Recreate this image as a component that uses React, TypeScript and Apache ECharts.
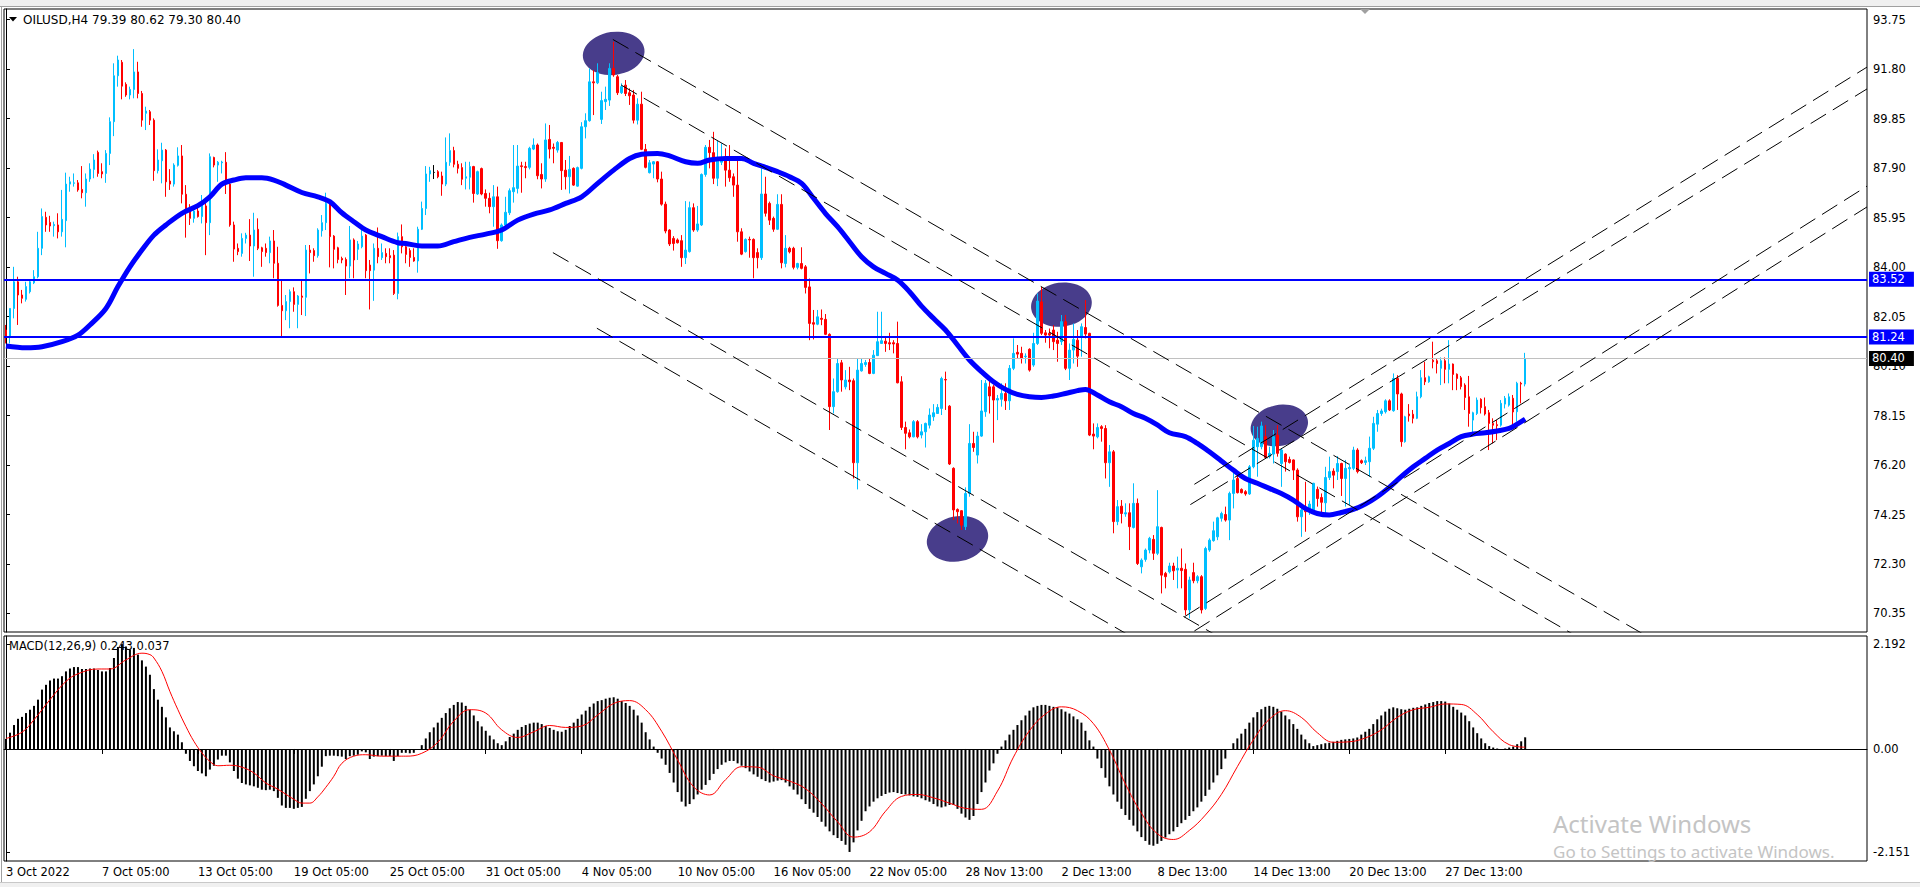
import React, { useEffect, useRef } from "react";
import * as echarts from "echarts";

const symbolLabel = "OILUSD,H4";
const quoteLabel = "79.39 80.62 79.30 80.40";
const macdLabel = "MACD(12,26,9) 0.243 0.037";
const watermarkTitle = "Activate Windows";
const watermarkHint = "Go to Settings to activate Windows.";

const xTickBars = [0, 24, 48, 72, 96, 120, 144, 168, 192, 216, 240, 264, 288, 312, 336, 360];
const xTickLabels = [
  "3 Oct 2022", "7 Oct 05:00", "13 Oct 05:00", "19 Oct 05:00", "25 Oct 05:00", "31 Oct 05:00",
  "4 Nov 05:00", "10 Nov 05:00", "16 Nov 05:00", "22 Nov 05:00", "28 Nov 13:00", "2 Dec 13:00",
  "8 Dec 13:00", "14 Dec 13:00", "20 Dec 13:00", "27 Dec 13:00",
];
const priceTicks = [70.35, 72.3, 74.25, 76.2, 78.15, 80.1, 82.05, 84.0, 85.95, 87.9, 89.85, 91.8, 93.75];
const macdTicks = [2.192, 0, -2.151];
const levelPrices = [83.52, 81.24];
const bidPrice = 80.4;

// [open, high, low, close] per H4 bar
const ohlc: number[][] = [
  [81.52,81.72,80.99,81.26],[81.26,82.37,80.99,82.37],[82.37,84.01,81.98,83.42],[83.42,83.62,81.72,82.90],[82.90,83.10,82.57,82.77],
  [82.73,83.42,82.64,83.23],[83.03,83.49,82.96,83.42],[83.38,83.88,83.33,83.62],[83.62,85.39,83.56,84.74],[84.74,86.31,84.47,85.99],
  [85.96,86.18,85.39,85.66],[85.76,86.02,85.39,85.62],[85.63,85.79,85.20,85.68],[85.66,86.12,85.13,85.39],[85.39,87.04,85.20,85.88],
  [85.83,87.72,84.78,87.27],[87.27,87.56,86.97,87.36],[87.30,87.69,87.17,87.32],[87.32,87.43,86.97,87.04],[87.06,87.98,86.71,86.93],
  [86.93,87.69,86.38,87.47],[87.47,88.09,87.36,87.86],[87.85,88.45,87.50,88.22],[88.52,88.59,87.56,87.69],[87.76,88.09,87.50,87.67],
  [87.69,88.61,87.32,88.48],[88.48,89.90,88.02,89.73],[89.73,92.03,89.16,91.54],[91.54,92.33,91.11,92.16],[92.07,92.16,90.61,91.13],
  [91.20,91.28,90.71,90.78],[90.78,91.11,90.61,91.00],[91.00,92.59,90.65,91.69],[91.69,92.09,90.65,90.84],[90.84,90.94,89.53,89.79],
  [90.06,90.32,89.40,90.15],[90.12,90.19,89.60,89.79],[89.79,89.86,87.40,87.80],[87.80,88.64,87.69,88.22],[88.19,88.90,87.30,88.61],
  [88.61,88.65,86.77,87.36],[87.39,87.86,87.04,87.27],[87.27,88.09,87.17,88.02],[88.01,88.72,87.96,88.38],[88.38,88.81,86.51,86.87],
  [86.87,87.23,85.16,86.14],[86.25,86.48,85.66,85.92],[85.92,86.41,85.75,86.21],[86.21,86.38,85.95,85.99],[85.99,86.84,85.72,86.51],
  [86.41,86.54,84.47,85.75],[85.75,88.48,85.26,88.35],[88.32,88.35,87.93,88.02],[88.02,88.18,87.36,88.13],[88.11,88.19,87.69,88.14],
  [88.13,88.53,86.88,87.27],[87.27,87.36,85.59,85.66],[85.66,85.79,84.21,84.71],[84.74,84.93,84.47,84.61],[84.54,85.33,84.41,85.13],
  [85.13,85.35,84.93,85.26],[85.26,85.89,84.24,84.83],[84.83,86.14,83.62,85.46],[85.49,85.92,84.67,84.74],[84.76,84.80,84.01,84.61],
  [84.74,84.93,84.41,84.57],[84.57,85.20,84.15,85.03],[85.03,85.46,83.56,84.15],[84.15,84.80,82.44,82.49],[82.49,83.46,81.28,82.28],
  [82.28,82.90,81.91,82.64],[82.64,83.12,81.59,83.03],[83.03,83.20,82.24,82.53],[82.53,82.90,81.59,82.86],[82.86,83.49,82.11,82.81],
  [82.81,84.87,82.07,84.67],[84.67,84.87,83.75,84.57],[84.65,84.74,84.21,84.45],[84.45,85.53,84.37,85.46],[85.43,86.05,85.20,85.75],
  [85.75,86.93,85.46,86.51],[86.51,86.62,83.99,85.20],[85.22,85.26,83.95,84.70],[84.76,84.80,84.15,84.30],[84.34,84.41,84.15,84.28],
  [84.30,84.38,82.90,84.04],[84.04,85.62,83.56,85.07],[85.07,85.13,83.56,84.28],[84.70,85.03,84.28,84.91],[84.80,85.51,84.74,85.22],
  [85.26,85.30,83.56,83.86],[84.08,84.28,82.33,83.86],[83.88,84.93,82.67,84.74],[84.74,85.56,84.15,84.41],[84.37,84.93,84.28,84.57],
  [84.54,84.74,84.15,84.41],[84.45,84.74,84.15,84.37],[84.47,84.67,82.90,82.96],[82.96,85.36,82.73,85.20],[85.20,85.68,84.54,84.80],
  [84.80,84.93,84.15,84.50],[84.65,84.74,84.01,84.38],[84.38,84.74,84.21,84.24],[84.24,85.59,83.78,85.49],[85.49,86.58,85.46,86.31],
  [86.31,87.98,86.05,87.67],[87.67,87.95,87.36,87.80],[87.73,88.02,87.47,87.73],[87.76,87.82,87.50,87.56],[87.59,87.76,86.81,87.27],
  [87.27,89.11,87.19,88.13],[88.13,89.27,87.99,88.59],[88.59,88.74,87.93,88.05],[88.05,88.19,87.69,87.89],[87.92,88.09,87.23,87.46],
  [87.50,88.15,87.06,87.56],[87.54,88.15,87.06,87.96],[87.96,87.99,86.54,86.90],[86.88,87.80,86.84,87.76],[87.88,87.92,86.83,86.88],
  [86.90,87.06,86.38,86.71],[86.71,86.93,86.12,86.38],[86.38,87.23,85.59,86.77],[86.77,87.17,84.72,85.04],[85.04,85.72,85.00,85.66],
  [85.66,86.77,85.46,86.16],[86.14,87.10,86.05,87.01],[86.97,88.81,86.54,87.13],[87.10,88.81,86.90,87.98],[87.99,88.15,86.93,87.96],
  [87.96,88.15,87.50,87.92],[87.93,88.74,87.85,88.68],[88.65,89.07,88.61,88.81],[88.81,88.87,87.46,87.60],[87.65,88.09,87.10,87.47],
  [87.47,89.66,87.36,89.01],[89.03,89.60,88.28,88.65],[88.72,88.87,88.09,88.68],[88.61,88.97,88.51,88.91],[88.91,88.93,87.04,87.80],
  [87.82,88.22,87.06,87.56],[87.56,88.38,86.90,87.85],[87.89,87.93,87.20,87.23],[87.19,87.96,87.17,87.92],[87.89,89.71,87.85,89.53],
  [89.53,90.06,89.07,89.77],[89.77,91.83,89.73,91.30],[91.30,91.76,89.99,91.26],[91.26,92.03,91.21,91.66],[89.82,90.91,89.64,90.56],
  [90.52,91.11,90.19,90.61],[90.58,92.03,90.35,91.83],[91.83,92.88,91.50,91.57],[91.50,91.57,90.78,90.87],[90.87,91.24,90.82,91.11],
  [91.17,91.37,90.74,90.84],[90.87,91.04,90.39,90.75],[90.78,90.98,89.66,89.79],[89.79,90.65,89.62,90.42],[90.42,90.91,88.61,88.64],
  [88.64,88.85,87.89,87.93],[87.72,88.22,87.69,88.11],[88.06,88.18,87.50,88.15],[88.15,88.18,87.34,87.47],[87.47,87.76,86.42,86.48],
  [86.48,86.58,85.33,85.42],[85.46,85.49,84.83,84.91],[85.13,85.22,84.65,84.93],[85.07,85.13,84.93,84.96],[85.04,85.26,84.01,84.37],
  [84.37,86.60,84.12,84.67],[84.61,86.58,84.57,86.34],[86.34,86.51,85.39,85.46],[85.46,86.41,85.39,85.70],[85.66,87.69,85.62,87.65],
  [87.65,88.81,87.56,88.72],[88.72,89.01,87.89,88.51],[88.51,89.33,87.27,87.50],[87.50,88.98,87.19,88.28],[88.13,88.87,88.02,88.28],
  [88.31,88.68,87.17,87.82],[87.82,88.81,87.36,87.52],[87.56,87.69,86.77,87.23],[87.23,88.22,85.00,85.39],[85.39,85.53,84.47,84.51],
  [84.61,85.13,84.57,85.09],[85.09,85.20,84.37,85.07],[85.09,85.13,83.56,84.37],[84.57,84.74,83.95,84.37],[84.37,87.89,84.28,86.88],
  [86.88,87.56,85.99,86.12],[86.51,86.58,85.66,85.85],[85.92,85.99,85.39,85.49],[85.49,86.87,85.46,86.47],[86.47,86.87,83.95,84.17],
  [84.14,85.26,83.99,84.74],[84.74,84.80,84.54,84.60],[84.74,84.80,83.91,83.99],[83.99,84.17,83.91,84.14],[84.14,84.78,83.91,83.95],
  [84.01,84.08,82.96,83.20],[83.22,83.55,81.12,81.78],[81.81,82.31,81.15,81.75],[81.75,82.31,81.71,82.04],[81.98,82.33,81.71,81.94],
  [81.94,82.15,81.32,81.35],[81.35,81.39,77.58,78.50],[78.50,79.61,78.23,79.09],[79.09,80.40,79.05,80.20],[80.23,80.34,79.09,79.55],
  [79.28,79.94,79.18,79.55],[79.55,80.07,79.15,79.48],[79.52,79.61,75.67,76.29],[76.29,80.40,75.24,79.94],[79.91,80.40,79.88,80.20],
  [80.16,80.34,80.07,80.24],[80.24,80.40,79.78,79.81],[79.81,80.73,79.78,80.53],[80.51,82.24,80.50,81.06],[80.99,82.24,80.97,81.10],
  [81.08,81.25,80.66,80.99],[81.02,81.41,80.73,80.97],[81.02,81.12,80.60,80.97],[80.99,81.85,79.42,79.44],[79.48,79.70,77.58,77.68],
  [77.68,77.91,76.82,77.45],[77.47,77.60,77.25,77.31],[77.31,77.97,77.29,77.91],[77.91,77.97,77.25,77.31],[77.38,77.81,77.25,77.51],
  [77.51,77.87,76.89,77.84],[77.77,78.43,77.64,78.17],[78.10,78.60,77.94,78.26],[78.23,78.60,78.21,78.47],[78.43,79.68,78.17,79.61],
  [79.57,79.88,78.37,79.55],[78.52,78.56,76.20,76.24],[76.07,76.11,74.03,74.43],[74.45,74.49,73.90,74.36],[74.40,74.42,73.64,73.83],
  [73.77,75.32,73.64,75.08],[75.08,77.81,74.95,77.05],[77.05,77.51,76.72,76.89],[76.59,77.51,76.26,77.34],[77.34,79.55,77.31,78.33],
  [78.30,79.55,78.10,79.42],[79.28,79.61,78.23,78.92],[79.28,79.35,77.08,78.76],[78.76,78.96,77.97,78.82],[78.79,79.42,78.50,79.02],
  [79.02,79.42,78.37,78.73],[78.73,80.14,78.37,80.01],[80.01,81.19,79.94,80.60],[80.64,80.93,80.40,80.57],[80.60,80.86,80.20,80.40],
  [80.47,80.60,80.20,80.49],[80.76,80.80,79.88,79.94],[80.14,81.41,80.07,80.99],[80.99,82.96,80.93,82.66],[82.63,83.22,81.32,81.39],
  [81.41,81.52,81.02,81.32],[81.39,81.58,80.80,81.32],[81.52,81.71,80.73,81.06],[81.12,81.45,80.27,80.99],[81.06,82.11,80.93,81.85],
  [81.85,82.11,79.94,80.01],[80.01,80.99,79.55,80.73],[80.73,81.78,80.20,81.15],[81.12,81.52,80.07,80.49],[81.25,81.78,80.47,81.65],
  [81.62,82.70,81.19,81.36],[81.39,81.41,77.34,77.38],[77.42,77.84,76.82,77.34],[77.31,77.84,77.25,77.68],[77.71,77.77,77.12,77.64],
  [77.64,77.77,75.67,76.29],[76.29,76.99,75.34,76.72],[76.72,76.79,73.51,73.97],[73.97,74.82,73.83,74.56],[74.58,74.82,73.90,74.29],
  [74.27,74.69,74.16,74.32],[74.32,74.69,72.85,73.77],[73.74,75.48,73.70,74.69],[74.69,74.88,72.26,72.32],[72.19,72.52,71.93,72.45],
  [72.48,72.91,72.39,72.85],[72.85,73.37,72.72,73.31],[73.27,73.44,72.46,72.72],[72.72,75.21,72.65,73.77],[73.74,73.77,71.14,71.86],
  [71.93,71.99,71.34,71.80],[71.99,72.35,71.93,72.22],[72.22,72.35,71.67,72.03],[72.06,72.59,71.34,72.13],[72.13,72.91,71.34,72.04],
  [72.09,72.32,70.29,70.49],[70.49,71.80,70.16,71.67],[71.96,72.35,71.54,71.64],[71.64,71.86,71.54,71.80],[71.80,71.86,70.35,70.49],
  [70.55,72.98,70.49,72.91],[72.85,73.31,72.78,73.24],[73.22,73.97,73.18,73.61],[73.37,74.16,73.24,74.12],[74.10,74.36,73.97,74.29],
  [74.25,74.56,73.97,74.03],[74.03,75.15,73.24,75.08],[75.08,76.00,74.49,75.61],[75.67,75.80,75.08,75.11],[75.24,75.28,75.08,75.11],
  [75.15,75.21,74.99,75.06],[75.06,76.20,75.02,76.13],[76.13,77.74,76.07,77.18],[76.92,77.71,75.74,77.25],[76.92,77.91,76.82,77.74],
  [77.32,77.77,76.46,76.50],[76.53,76.92,76.46,76.66],[76.63,77.58,76.26,77.32],[77.38,77.77,76.53,76.66],[76.26,76.86,75.34,76.79],
  [76.63,76.66,75.94,76.33],[76.42,76.53,76.26,76.30],[76.40,76.42,75.61,76.00],[76.00,76.07,73.97,74.16],[74.16,74.49,73.37,74.43],
  [74.43,75.54,73.57,74.36],[74.36,74.79,74.23,74.66],[74.43,75.50,74.29,75.48],[75.24,75.35,74.56,74.88],[74.92,75.08,74.29,74.73],
  [74.71,76.13,74.29,75.71],[75.71,76.53,75.61,75.94],[75.96,76.07,75.28,75.80],[75.94,76.55,75.61,76.26],[76.26,76.29,74.98,75.67],
  [75.67,76.40,74.56,76.07],[76.05,76.26,74.62,76.10],[76.07,76.92,76.00,76.79],[76.79,76.86,75.87,75.94],[76.37,76.42,76.24,76.29],
  [76.30,76.53,76.20,76.37],[76.33,77.32,75.74,76.86],[76.86,78.10,76.79,77.84],[77.81,78.37,77.51,78.23],[78.23,78.42,78.14,78.33],
  [78.30,78.79,78.23,78.73],[78.73,78.79,78.33,78.37],[78.34,79.81,78.30,79.61],[79.61,79.74,78.37,79.00],[79.00,79.05,76.92,77.12],
  [77.12,78.14,77.08,78.10],[78.21,78.60,77.91,78.14],[78.20,78.37,77.84,78.04],[78.04,79.09,78.01,78.89],[78.89,79.94,78.83,79.64],
  [79.64,80.27,79.35,79.48],[79.48,79.72,79.44,79.68],[80.33,81.06,80.01,80.27],[80.31,80.40,79.81,80.20],[80.01,80.44,79.35,80.31],
  [80.31,80.44,79.42,79.97],[79.97,81.12,79.42,80.18],[80.18,80.20,79.15,79.77],[79.78,79.81,79.15,79.61],[79.64,79.71,79.18,79.29],
  [79.35,79.42,78.37,78.86],[78.89,79.71,77.71,78.23],[77.97,78.30,77.47,78.26],[78.23,78.86,78.17,78.76],[78.79,78.83,78.23,78.46],
  [78.50,78.86,78.15,78.21],[78.26,78.37,76.79,77.84],[77.84,78.04,77.05,77.77],[77.79,77.97,77.18,77.75],[77.77,78.76,77.71,78.63],
  [78.60,78.92,78.43,78.83],[78.56,79.02,78.50,78.89],[78.83,78.96,77.77,78.29],[78.30,79.48,77.91,79.42],[79.42,79.48,78.63,79.39],
  [79.39,80.62,79.30,80.40],
];

// moving average, [bar, value]
const maPoints: number[][] = [
  [0,80.89],[5,80.82],[9,80.86],[14,81.06],[18,81.32],[21,81.72],[25,82.37],[28,83.23],[31,84.01],[34,84.67],[37,85.26],[40,85.66],
  [44,86.12],[48,86.42],[51,86.77],[54,87.27],[57,87.43],[60,87.52],[64,87.52],[67,87.43],[70,87.23],[74,86.94],[78,86.77],[81,86.58],
  [84,86.14],[87,85.79],[90,85.46],[94,85.2],[98,84.96],[100,84.93],[104,84.83],[108,84.83],[112,85.0],[116,85.17],[120,85.3],[124,85.46],
  [128,85.85],[132,86.09],[136,86.25],[140,86.51],[144,86.77],[148,87.3],[152,87.82],[156,88.28],[159,88.45],[163,88.48],[166,88.38],
  [170,88.15],[173,88.09],[176,88.22],[180,88.28],[184,88.28],[187,88.09],[190,87.93],[193,87.76],[196,87.56],[199,87.3],[202,86.71],
  [205,86.11],[208,85.59],[211,85.0],[214,84.41],[217,84.01],[220,83.75],[223,83.49],[226,83.03],[229,82.46],[232,81.98],[235,81.52],
  [238,80.93],[241,80.34],[244,79.88],[247,79.48],[250,79.18],[253,78.98],[256,78.89],[259,78.86],[262,78.92],[265,79.02],[268,79.13],
  [270,79.18],[273,78.96],[276,78.69],[279,78.5],[282,78.23],[285,78.04],[288,77.78],[291,77.47],[295,77.32],[298,77.05],[301,76.72],
  [304,76.36],[307,76.0],[310,75.67],[313,75.48],[316,75.28],[319,75.08],[322,74.82],[325,74.49],[328,74.29],[331,74.23],[334,74.33],
  [337,74.45],[340,74.66],[343,74.95],[346,75.32],[349,75.74],[352,76.13],[355,76.46],[358,76.79],[361,77.05],[364,77.32],[367,77.42],
  [370,77.47],[373,77.54],[376,77.64],[378,77.81],[380,78.01],
];

// MACD main line (drawn as histogram), one value per bar
const macdMain: number[] = [
  0.21,0.34,0.50,0.63,0.67,0.75,0.82,0.90,1.03,1.24,
  1.34,1.43,1.47,1.47,1.52,1.62,1.68,1.71,1.71,1.67,
  1.67,1.68,1.68,1.65,1.62,1.62,1.69,1.90,2.13,2.19,
  2.14,2.08,2.11,1.97,1.85,1.72,1.55,1.25,1.03,0.88,
  0.66,0.45,0.37,0.30,0.14,-0.10,-0.25,-0.36,-0.46,-0.51,
  -0.57,-0.43,-0.35,-0.22,-0.14,-0.14,-0.28,-0.46,-0.62,-0.71,
  -0.74,-0.76,-0.78,-0.81,-0.85,-0.86,-0.85,-0.88,-1.02,-1.18,
  -1.23,-1.23,-1.25,-1.23,-1.21,-1.04,-0.88,-0.74,-0.57,-0.37,
  -0.15,-0.14,-0.14,-0.15,-0.16,-0.21,-0.15,-0.14,-0.12,-0.05,
  -0.07,-0.21,-0.16,-0.15,-0.14,-0.15,-0.15,-0.25,-0.15,
  -0.08,-0.08,-0.09,-0.08,-0.02,0.08,0.22,0.35,0.45,0.55,
  0.65,0.75,0.85,0.92,0.98,0.97,0.90,0.82,0.70,0.58,
  0.47,0.38,0.28,0.20,0.12,0.08,0.16,0.25,0.32,0.40,
  0.46,0.50,0.53,0.55,0.55,0.52,0.48,0.44,0.40,0.37,
  0.36,0.40,0.48,0.55,0.63,0.72,0.80,0.88,0.95,1.00,
  1.02,1.05,1.07,1.08,1.05,1.00,0.96,0.90,0.82,0.70,
  0.55,0.35,0.20,0.05,-0.08,-0.20,-0.33,-0.50,-0.70,-0.90,
  -1.10,-1.20,-1.15,-1.05,-0.95,-0.85,-0.75,-0.65,-0.52,-0.42,
  -0.33,-0.28,-0.25,-0.25,-0.30,-0.35,-0.40,-0.47,-0.53,-0.58,
  -0.63,-0.67,-0.70,-0.68,-0.66,-0.65,-0.70,-0.78,-0.85,-0.95,
  -1.05,-1.15,-1.25,-1.33,-1.42,-1.52,-1.62,-1.72,-1.80,-1.86,
  -1.92,-2.00,-2.15,-1.95,-1.70,-1.50,-1.30,-1.20,-1.10,-1.03,
  -0.98,-0.94,-0.91,-0.90,-0.92,-0.94,-0.95,-0.97,-0.99,-1.00,
  -1.03,-1.07,-1.10,-1.15,-1.20,-1.22,-1.20,-1.17,-1.17,-1.25,
  -1.35,-1.43,-1.48,-1.40,-1.15,-0.90,-0.70,-0.45,-0.30,-0.10,
  0.05,0.18,0.30,0.40,0.50,0.60,0.70,0.80,0.87,0.90,
  0.92,0.92,0.90,0.88,0.87,0.83,0.78,0.74,0.68,0.62,
  0.55,0.38,0.18,0.05,-0.20,-0.40,-0.60,-0.78,-0.95,-1.10,
  -1.25,-1.38,-1.48,-1.60,-1.72,-1.84,-1.92,-2.00,-2.02,-1.98,
  -1.92,-1.85,-1.78,-1.72,-1.63,-1.55,-1.48,-1.40,-1.30,-1.22,
  -1.10,-0.98,-0.85,-0.70,-0.55,-0.42,-0.20,0.00,0.12,0.22,
  0.32,0.42,0.55,0.66,0.77,0.83,0.88,0.90,0.88,0.84,
  0.78,0.70,0.62,0.52,0.42,0.30,0.20,0.12,0.06,0.08,
  0.10,0.12,0.13,0.15,0.17,0.19,0.20,0.21,0.22,0.24,
  0.30,0.36,0.42,0.52,0.62,0.70,0.78,0.84,0.87,0.85,
  0.83,0.82,0.84,0.86,0.87,0.90,0.93,0.96,0.98,1.00,
  1.00,0.99,0.95,0.88,0.82,0.76,0.70,0.58,0.45,0.33,
  0.22,0.12,0.06,0.03,0.01,0.00,0.01,0.03,0.05,0.10,
  0.16,0.243,
];

// MACD signal line, [bar, value]
const macdSignal: number[][] = [
  [0,0.22],[4,0.35],[7,0.61],[11,1.03],[15,1.41],[18,1.57],[23,1.67],[26,1.67],[30,1.86],[34,2.0],[36,1.97],[37,1.9],
  [39,1.62],[41,1.2],[43,0.82],[45,0.47],[47,0.16],[49,-0.08],[51,-0.26],[53,-0.35],[56,-0.34],[59,-0.38],[62,-0.5],
  [65,-0.71],[68,-0.84],[72,-1.05],[74,-1.13],[76,-1.13],[78,-1.0],[80,-0.8],[82,-0.57],[84,-0.3],[87,-0.15],[90,-0.12],
  [94,-0.15],[98,-0.15],[100,-0.15],[104,-0.09],[108,0.14],[112,0.58],[116,0.82],[120,0.75],[124,0.4],[128,0.24],
  [132,0.36],[136,0.49],[140,0.45],[144,0.48],[148,0.71],[152,0.95],[156,1.01],[160,0.82],[164,0.37],[168,-0.23],
  [172,-0.79],[176,-0.96],[180,-0.64],[184,-0.37],[188,-0.38],[192,-0.56],[196,-0.67],[200,-0.83],[204,-1.14],
  [208,-1.52],[212,-1.84],[216,-1.73],[220,-1.3],[224,-0.99],[228,-0.95],[232,-1.02],[236,-1.13],[240,-1.24],
  [244,-1.26],[248,-0.88],[252,-0.17],[256,0.38],[260,0.73],[264,0.88],[268,0.8],[272,0.53],[276,-0.02],[280,-0.73],
  [284,-1.34],[288,-1.77],[292,-1.89],[296,-1.7],[300,-1.38],[304,-0.95],[308,-0.37],[312,0.19],[316,0.62],[320,0.8],
  [324,0.66],[328,0.34],[332,0.14],[336,0.15],[340,0.23],[344,0.4],[348,0.66],[352,0.82],[356,0.87],[360,0.94],
  [364,0.93],[368,0.72],[372,0.36],[376,0.09],[380,0.037],
];

// trend lines: [[bar, price], [bar, price]]
const trendLines: number[][][] = [
  [[151.8, 92.97], [465.5, 64.45]],
  [[153.9, 91.17], [465.5, 62.85]],
  [[136.8, 84.57], [465.5, 54.69]],
  [[147.8, 81.59], [465.5, 52.71]],
  [[297.25, 75.44], [465.5, 91.88]],
  [[296.25, 74.64], [465.5, 91.02]],
  [[294.75, 70.22], [465.5, 87.19]],
  [[297.25, 69.66], [465.5, 86.37]],
];

// highlighted zones: [bar, price]
const ellipseCenters: number[][] = [[152, 92.42], [264, 82.52], [318.5, 77.76], [238, 73.29]];

// ---------- layout / style ----------
const FONT = "'DejaVu Sans', sans-serif";
const FS = 11.5;
const BAR_SLOTS = 466;
const GRID_LEFT = 4;
const GRID_W = 1863;
const MAIN_TOP = 9;
const MAIN_H = 623;
const MACD_TOP = 636;
const MACD_H = 225;
const PRICE_MIN = 69.62;
const PRICE_MAX = 94.17;
const MACD_MIN = -2.339;
const MACD_MAX = 2.359;
const ellipseSizes = [[62, 43], [61, 44], [58, 41], [62, 45]];
const ellipseRot = [8, 8, 12, 12];

const textStyle = (text: string, size: number, fill: string, family = FONT) => ({
  text, fill, fontSize: size, fontFamily: family, verticalAlign: "middle", textVerticalAlign: "middle",
});

export default function App() {
  const ref = useRef<HTMLDivElement>(null);

  useEffect(() => {
    if (!ref.current) return;
    const chart = echarts.init(ref.current, undefined, { renderer: "svg" });
    const slots = Array.from({ length: BAR_SLOTS }, (_, i) => String(i));
    const tickSet = new Set(xTickBars);
    const labelByBar: Record<number, string> = {};
    xTickBars.forEach((b, k) => (labelByBar[b] = xTickLabels[k]));

    const candleData = ohlc.map(([o, h, l, c]) => [o, c, l, h]);

    const lineSeries = trendLines.map((pts) => ({
      type: "line",
      xAxisIndex: 1,
      yAxisIndex: 0,
      data: pts,
      showSymbol: false,
      symbol: "none",
      silent: true,
      clip: true,
      lineStyle: { color: "#000", width: 1, type: [18, 8] },
      z: 6,
    }));

    const option: any = {
      animation: false,
      backgroundColor: "#ffffff",
      textStyle: { fontFamily: FONT },
      grid: [
        { left: GRID_LEFT, top: MAIN_TOP, width: GRID_W, height: MAIN_H, show: true, borderColor: "#000", borderWidth: 1, backgroundColor: "transparent", containLabel: false, outerBoundsMode: "none" },
        { left: GRID_LEFT, top: MACD_TOP, width: GRID_W, height: MACD_H, show: true, borderColor: "#000", borderWidth: 1, backgroundColor: "transparent", containLabel: false, outerBoundsMode: "none" },
      ],
      xAxis: [
        { type: "category", gridIndex: 0, data: slots, boundaryGap: true, axisLine: { show: false }, axisTick: { show: false }, axisLabel: { show: false }, splitLine: { show: false } },
        { type: "value", gridIndex: 0, min: -0.5, max: BAR_SLOTS - 0.5, show: false, splitLine: { show: false } },
        {
          type: "category", gridIndex: 1, data: slots, boundaryGap: true, position: "bottom",
          axisLine: { show: true, lineStyle: { color: "#000", width: 1 } },
          axisTick: { show: true, alignWithLabel: true, interval: (i: number) => tickSet.has(i), length: 5, lineStyle: { color: "#000" } },
          axisLabel: {
            show: true, interval: (i: number) => tickSet.has(i), formatter: (v: string) => labelByBar[Number(v)] || "",
            align: "left", margin: 5, color: "#000", fontFamily: FONT, fontSize: FS,
          },
          splitLine: { show: false },
        },
        { type: "value", gridIndex: 1, min: -0.5, max: BAR_SLOTS - 0.5, show: false, splitLine: { show: false } },
      ],
      yAxis: [
        {
          type: "value", gridIndex: 0, position: "right", min: PRICE_MIN, max: PRICE_MAX, splitLine: { show: false },
          axisLine: { show: true, lineStyle: { color: "#000" } },
          axisTick: { show: true, length: 4, customValues: priceTicks, lineStyle: { color: "#000" } },
          axisLabel: { show: true, customValues: priceTicks, formatter: (v: number) => v.toFixed(2), color: "#000", fontFamily: FONT, fontSize: FS, margin: 6 },
        },
        {
          type: "value", gridIndex: 1, position: "right", min: MACD_MIN, max: MACD_MAX, splitLine: { show: false },
          axisLine: { show: true, lineStyle: { color: "#000" } },
          axisTick: { show: true, length: 4, customValues: macdTicks, lineStyle: { color: "#000" } },
          axisLabel: {
            show: true, customValues: macdTicks,
            formatter: (v: number) => (Math.abs(v) < 1e-9 ? "0.00" : v.toFixed(3)),
            color: "#000", fontFamily: FONT, fontSize: FS, margin: 6,
          },
        },
      ],
      series: [
        {
          type: "scatter", xAxisIndex: 1, yAxisIndex: 0, silent: true, symbol: "circle",
          data: ellipseCenters.map((c, k) => ({ value: c, symbolSize: ellipseSizes[k], symbolRotate: ellipseRot[k] })),
          itemStyle: { color: "#483D8B", opacity: 1 },
          z: 2,
        },
        {
          type: "candlestick", xAxisIndex: 0, yAxisIndex: 0, data: candleData, barWidth: 2, silent: true,
          itemStyle: { color: "#00BFFF", color0: "#FF0000", borderColor: "#00BFFF", borderColor0: "#FF0000", borderColorDoji: "#000", borderWidth: 1 },
          z: 3,
        },
        {
          type: "line", xAxisIndex: 1, yAxisIndex: 0, data: maPoints, smooth: 0.35, showSymbol: false, symbol: "none", silent: true,
          lineStyle: { color: "#0000FF", width: 5 },
          z: 4,
          markLine: {
            silent: true, symbol: "none", animation: false,
            data: [
              ...levelPrices.map((p) => ({
                yAxis: p,
                lineStyle: { color: "#0000FF", width: 2, type: "solid" },
                label: { show: true, position: "end", formatter: p.toFixed(2), color: "#fff", backgroundColor: "#0000FF", padding: [2, 9, 1, 3], distance: 2, fontFamily: FONT, fontSize: FS },
              })),
              {
                yAxis: bidPrice,
                lineStyle: { color: "#C0C0C0", width: 1, type: "solid" },
                label: { show: true, position: "end", formatter: bidPrice.toFixed(2), color: "#fff", backgroundColor: "#000", padding: [2, 9, 1, 3], distance: 2, fontFamily: FONT, fontSize: FS },
              },
            ],
          },
        },
        ...lineSeries,
        {
          type: "bar", xAxisIndex: 2, yAxisIndex: 1, data: macdMain, barWidth: 2, silent: true,
          itemStyle: { color: "#000" }, z: 2,
        },
        {
          type: "line", xAxisIndex: 3, yAxisIndex: 1, data: macdSignal, smooth: 0.4, showSymbol: false, symbol: "none", silent: true,
          lineStyle: { color: "#FF0000", width: 1 }, z: 3,
        },
      ],
      graphic: [
        { type: "rect", shape: { x: 0, y: 0, width: 1920, height: 6 }, style: { fill: "#F0F0F0" }, silent: true },
        { type: "line", shape: { x1: 0, y1: 6.5, x2: 1920, y2: 6.5 }, style: { stroke: "#A0A0A0", lineWidth: 1 }, silent: true },
        { type: "line", shape: { x1: 1.5, y1: 7, x2: 1.5, y2: 882 }, style: { stroke: "#A0A0A0", lineWidth: 1 }, silent: true },
        { type: "rect", shape: { x: 0, y: 882, width: 1920, height: 5 }, style: { fill: "#F0F0F0" }, silent: true },
        { type: "line", shape: { x1: 0, y1: 882.5, x2: 1920, y2: 882.5 }, style: { stroke: "#C8C8C8", lineWidth: 1 }, silent: true },
        { type: "polygon", shape: { points: [[9, 17], [17, 17], [13, 21.5]] }, style: { fill: "#000" }, silent: true },
        { type: "polygon", shape: { points: [[1360, 9], [1370, 9], [1365, 14]] }, style: { fill: "#A0A0A0" }, silent: true },
        { type: "text", x: 23, y: 19.5, style: textStyle(symbolLabel, 12, "#000"), silent: true },
        { type: "text", x: 92, y: 19.5, style: textStyle(quoteLabel, 12, "#000"), silent: true },
        { type: "text", x: 9, y: 646, style: textStyle(macdLabel, FS, "#000"), silent: true },
        { type: "text", x: 1553, y: 823, style: textStyle(watermarkTitle, 24, "#C4C4C4", "'Noto Sans', sans-serif"), silent: true },
        { type: "text", x: 1553, y: 851, style: textStyle(watermarkHint, 17, "#C4C4C4", "'Noto Sans', sans-serif"), silent: true },
      ],
    };

    chart.setOption(option);
    return () => chart.dispose();
  }, []);

  return <div ref={ref} style={{ position: "fixed", left: 0, top: 0, width: 1920, height: 887, background: "#fff" }} />;
}
